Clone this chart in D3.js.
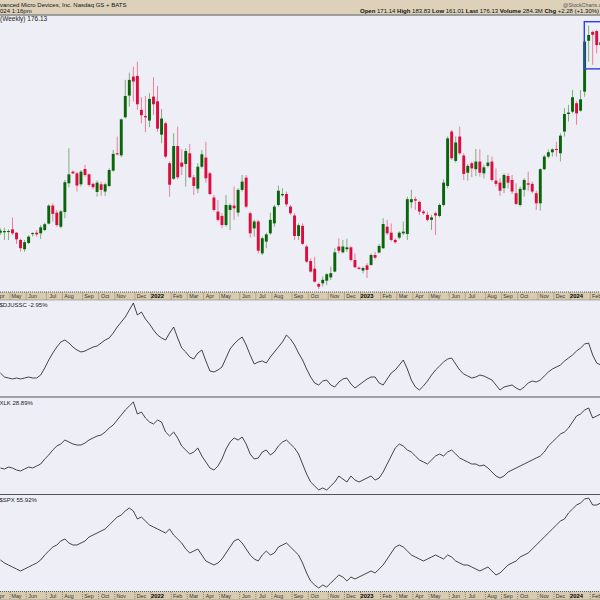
<!DOCTYPE html>
<html><head><meta charset="utf-8">
<script src="https://cdn.jsdelivr.net/npm/d3@7"></script>
<style>body{margin:0;background:#fff}svg{display:block}text{font-family:"Liberation Sans",Arial,sans-serif}</style>
</head><body>
<svg id="c" width="600" height="600"></svg>
<script>
// ---- data (weekly bars, first week starts Monday 2021-04-05) ----
const firstWeek = "2021-04-05";
const mondayHolidays = ["2021-05-31","2021-09-06","2022-01-17","2022-05-30","2022-07-04","2022-09-05","2023-01-02","2023-05-29","2023-09-04","2024-01-01"];
const opens = [81.8,82.0,82.4,83.4,81.8,78.3,73.8,76.8,81.3,81.8,81.5,83.1,86.2,94.9,91.5,84.7,91.8,105.7,111.3,110.5,105.2,112.6,110.0,105.4,101.5,105.2,101.7,104.4,111.8,120.2,119.2,137.6,148.1,157.3,157.6,141.2,138.2,136.0,147.6,145.3,129.2,134.7,115.4,107.9,123.7,115.7,115.0,120.2,108.6,103.1,113.7,118.1,110.5,98.8,92.0,89.9,85.5,92.8,94.9,91.5,102.5,108.4,91.2,83.9,87.2,71.8,77.5,81.5,86.3,95.2,99.9,100.5,94.4,90.1,80.2,85.1,75.1,68.1,64.4,57.0,57.3,58.6,60.2,63.0,75.1,72.3,73.8,74.7,68.6,64.9,63.5,66.0,66.2,71.0,72.2,74.3,84.7,81.8,78.3,79.4,81.5,81.2,96.5,98.0,96.7,92.0,90.4,88.0,91.2,89.9,95.2,104.4,130.7,116.5,128.3,119.1,110.8,115.4,112.5,116.2,110.5,114.1,116.2,107.0,106.0,103.3,109.2,107.3,100.9,95.2,102.5,105.7,105.4,100.9,96.0,112.5,118.6,120.7,122.3,120.2,130.7,139.2,140.3,144.4,140.8,150.0,174.6,178.9,179.3,172.5,171.14];
const highs = [83.9,84.2,83.4,89.1,82.0,78.9,78.3,80.5,82.0,83.1,85.5,86.7,95.5,96.0,92.8,92.8,107.3,122.6,111.8,111.3,112.1,114.6,110.5,106.0,107.0,106.5,106.0,112.9,121.8,128.3,137.0,155.7,159.2,162.1,164.5,147.3,147.9,149.2,156.9,152.8,141.6,135.5,116.2,129.9,133.1,122.1,122.6,124.7,109.7,115.4,121.8,125.8,111.3,100.0,97.6,91.2,100.0,96.0,104.1,103.3,109.7,109.7,92.0,88.0,88.0,79.9,81.8,91.5,95.2,104.6,103.3,101.7,95.2,91.2,86.3,86.3,75.9,69.4,70.2,57.7,60.6,62.2,65.4,74.3,79.1,78.3,78.9,75.4,71.8,65.4,65.4,67.0,71.8,72.6,76.4,88.8,88.0,86.3,79.1,82.5,87.2,99.2,102.5,99.2,97.3,92.8,92.0,90.4,92.0,96.0,107.6,128.3,131.5,128.3,133.1,120.2,115.0,116.2,122.3,122.1,114.6,119.4,118.6,112.9,108.1,110.5,110.5,109.7,105.7,104.1,108.1,111.3,106.5,102.1,112.9,119.4,122.1,122.6,125.8,129.9,142.0,143.6,150.8,145.2,150.8,175.0,182.0,179.5,180.0,180.0,183.83];
const lows = [80.7,78.3,78.3,80.7,76.4,72.6,72.6,76.4,80.0,79.9,78.8,82.5,85.8,87.2,84.7,83.9,88.8,103.8,110.2,101.7,104.1,108.9,104.1,102.8,99.2,99.6,99.6,103.8,111.3,119.2,118.3,137.0,142.8,145.2,141.2,134.7,130.4,132.8,138.7,130.7,125.0,117.8,99.2,107.3,107.6,109.7,104.1,108.1,100.0,100.9,112.9,106.0,100.0,92.0,87.2,83.9,84.7,83.1,88.0,89.6,101.7,93.6,79.4,79.9,71.8,71.0,74.3,80.7,84.7,94.4,99.2,94.4,90.4,78.3,78.3,75.9,67.3,62.5,57.7,54.57,55.7,56.5,58.9,62.7,71.8,71.8,72.6,67.8,64.6,63.8,62.2,59.9,65.7,68.9,71.8,73.8,80.7,77.5,76.4,78.6,80.7,78.3,93.6,92.8,90.4,90.4,87.2,83.1,80.7,89.2,94.4,103.3,117.0,115.7,119.4,107.3,107.0,108.6,109.2,108.9,108.1,113.4,106.5,104.1,99.6,100.9,103.3,100.5,95.1,94.4,99.2,102.1,100.9,92.8,92.5,112.1,117.8,118.6,118.6,116.2,128.3,135.5,139.5,133.9,140.3,147.5,164.5,163.0,168.5,168.0,161.01];
const closes = [82.8,82.6,82.6,81.5,78.6,74.3,77.2,79.9,81.6,81.0,84.4,85.9,94.9,90.9,85.5,92.1,106.2,110.0,110.5,104.6,111.3,109.7,104.9,103.8,106.0,102.5,105.2,112.1,119.9,119.7,136.6,147.9,155.7,154.9,143.9,138.6,137.6,146.5,143.9,132.1,137.0,118.6,105.0,123.7,108.6,113.7,121.3,108.6,104.4,113.7,119.7,108.1,100.5,92.8,88.0,85.5,95.2,95.1,93.6,102.5,106.5,94.4,81.5,87.2,73.1,79.1,81.0,88.0,94.4,102.1,100.5,95.5,91.2,80.2,85.4,76.4,67.8,63.0,58.1,55.7,59.0,61.7,62.2,72.3,73.1,75.1,74.7,68.6,65.1,64.3,64.7,63.8,71.0,69.7,75.4,86.0,81.5,78.3,77.2,81.8,82.3,98.0,98.0,97.3,92.0,91.2,88.0,89.2,90.1,95.2,106.0,127.4,117.8,125.4,120.2,110.2,114.1,112.9,116.2,110.8,113.4,115.7,107.3,105.4,102.1,109.7,106.0,101.7,95.7,103.0,107.3,105.0,101.7,96.0,112.5,118.6,120.7,122.1,121.8,128.7,139.2,139.9,147.3,139.5,146.3,174.2,177.4,177.5,172.5,173.9,176.13];
// lower panels (panel units)
const djusscVals = [22,18,17,16,17,16,17,18,17,17,20,27,35,42,48,53,55,52,48,45,43,44,46,48,49,52,55,57,62,68,73,78,85,92,80,83,76,71,65,60,57,55,62,68,57,47,43,38,36,42,45,34,24,23,25,28,37,46,51,55,58,50,40,31,33,34,32,38,43,48,53,60,56,50,42,35,26,18,12,10,14,15,10,8,13,16,17,11,7,10,13,16,18,18,12,10,16,22,25,30,35,26,15,8,5,9,14,20,25,29,33,36,37,31,25,21,19,17,18,20,19,17,15,10,5,8,9,10,7,5,8,12,14,13,15,19,23,26,28,30,34,37,40,44,47,51,52,40,32,30,31];
const xlkVals = [26,25,27,26,24,23,25,27,26,28,30,35,39,44,48,50,54,52,50,49,49,51,54,56,58,59,62,66,69,74,79,84,88,92,80,82,76,72,70,74,72,62,58,62,56,48,44,40,42,46,38,32,26,24,28,35,45,52,56,54,57,50,40,35,36,42,44,39,42,48,52,54,50,46,40,30,20,12,8,4,6,4,8,12,18,15,12,18,14,12,14,16,18,14,16,22,30,38,46,50,48,44,42,38,34,32,30,34,38,40,38,42,44,40,36,34,32,30,30,28,29,26,22,18,16,18,22,24,26,28,30,32,34,36,38,42,48,52,56,60,62,66,72,78,80,84,86,76,78,80,82];
const spxVals = [31,28,26,24,22,20,22,24,26,28,31,36,40,44,46,50,52,48,46,46,48,50,54,56,58,60,62,66,70,74,76,80,83,80,72,74,70,66,64,62,60,58,62,56,52,48,42,38,40,42,36,30,28,26,28,32,38,44,50,52,48,42,36,32,30,36,40,36,38,44,46,48,44,40,36,28,18,10,6,3,6,4,8,12,16,14,10,14,12,14,16,18,20,18,22,26,32,38,44,46,44,40,36,34,32,30,32,34,36,34,32,36,34,30,28,26,26,24,22,20,22,24,20,16,18,22,26,28,30,34,36,38,42,46,50,54,58,62,66,70,72,78,82,86,88,92,93,86,86,88,90];
const panelLabels = ["$DJUSSC -2.95%","XLK 28.89%","$SPX 55.92%"];
const headerName = "Advanced Micro Devices, Inc.  Nasdaq GS + BATS";
const headerDate = "22-Feb-2024 1:16pm";
const quoteLabels = ["Open","High","Low","Last","Volume","Chg"];
const quoteValues = ["171.14","183.83","161.01","176.13","284.3M","+2.28 (+1.30%)"];
const boxRange = [183.83, 161.01];

// ---- layout ----
const svg = d3.select("#c");
const C = {bg:"#eeeef6", band:"#d8cbb0", head:"#ddd1b9", up:"#0a640a", dn:"#dc0c3c", upW:"#7fae7f", dnW:"#ec7f9c"};
const t0 = d3.utcParse("%Y-%m-%d")(firstWeek);
const weeks = opens.map((_, i) => d3.utcMonday.offset(t0, i));
const N = weeks.length;
const x = d3.scaleUtc().domain([weeks[0], weeks[N-1]]).range([0.4, 0.4 + 4.029*(N-1)]);
const yMain = d3.scaleLinear().domain([50,190]).range([298.45, 8.93]);
const panels = [
  {vals: djusscVals, top:300, bot:396.5, y:d3.scaleLinear().domain([0,95]).range([395,300])},
  {vals: xlkVals, top:397.5, bot:494, y:d3.scaleLinear().domain([0,95]).range([494,399])},
  {vals: spxVals, top:495, bot:591.5, y:d3.scaleLinear().domain([0,95]).range([591,496])}
];

svg.append("rect").attr("width",600).attr("height",600).attr("fill",C.bg);
// header
svg.append("rect").attr("width",600).attr("height",14.5).attr("fill",C.head);
svg.append("line").attr("x1",0).attr("x2",600).attr("y1",15).attr("y2",15).attr("stroke","#555").attr("stroke-width",1);

function prefixWidth(str, size, weight){
  const t = svg.append("text").attr("font-size",size).attr("font-weight",weight||"normal").text(str);
  const w = t.node().getComputedTextLength(); t.remove(); return w;
}
svg.append("text").attr("x",-prefixWidth("Ad",6)).attr("y",6.5).attr("font-size",6).attr("fill","#111").text(headerName);
svg.append("text").attr("x",-prefixWidth("22-Feb-2",6)).attr("y",12.5).attr("font-size",6).attr("fill","#111").text(headerDate);
svg.append("text").attr("x",563).attr("y",6.5).attr("font-size",5.3).attr("fill","#555").text("@StockCharts.com");
const q = svg.append("text").attr("x",360).attr("y",12.5).attr("font-size",6).attr("fill","#111");
quoteLabels.forEach((l,i)=>{
  q.append("tspan").attr("font-weight","bold").text((i?" ":"")+l+" ");
  q.append("tspan").text(quoteValues[i]);
});
svg.append("text").attr("x",0).attr("y",21).attr("font-size",6.5).attr("fill","#222").text("(Weekly) "+closes[N-1]);

// candles
const g = svg.append("g");
const bw = 2.9;
g.selectAll("line.w").data(weeks).join("line")
  .attr("x1",d=>x(d)).attr("x2",d=>x(d))
  .attr("y1",(d,i)=>yMain(highs[i])).attr("y2",(d,i)=>yMain(lows[i]))
  .attr("stroke",(d,i)=>closes[i]>=opens[i]?C.upW:C.dnW).attr("stroke-width",1);
g.selectAll("rect.b").data(weeks).join("rect")
  .attr("x",d=>x(d)-bw/2).attr("width",bw)
  .attr("y",(d,i)=>yMain(Math.max(opens[i],closes[i])))
  .attr("height",(d,i)=>Math.max(1,Math.abs(yMain(opens[i])-yMain(closes[i]))))
  .attr("fill",(d,i)=>closes[i]>=opens[i]?C.up:C.dn);
// highlight box
svg.append("rect").attr("x",x(weeks[145])-0.3).attr("y",yMain(boxRange[0]))
  .attr("width",80).attr("height",yMain(boxRange[1])-yMain(boxRange[0]))
  .attr("fill","none").attr("stroke","#2f3fe6").attr("stroke-width",1.4);

// month ticks
const hol = new Set(mondayHolidays);
const fmtD = d3.utcFormat("%Y-%m-%d");
const eff = weeks.map(w => hol.has(fmtD(w)) ? d3.utcDay.offset(w,1) : w);
const months = d3.utcMonth.range(d3.utcMonth.floor(weeks[0]), d3.utcMonth.offset(weeks[N-1],1));
const ticks = [];
months.forEach(m=>{
  const i = eff.findIndex(e => e >= m);
  if (i>=0 && eff[i].getUTCMonth()===m.getUTCMonth()) ticks.push({i, m});
});
function axisBand(y0, h){
  svg.append("rect").attr("x",0).attr("y",y0).attr("width",600).attr("height",h).attr("fill",C.band);
  svg.append("line").attr("x1",0).attr("x2",600).attr("y1",y0).attr("y2",y0).attr("stroke","#555").attr("stroke-dasharray","1,1");
  svg.append("line").attr("x1",0).attr("x2",600).attr("y1",y0+h).attr("y2",y0+h).attr("stroke","#888").attr("stroke-width",0.6);
  ticks.forEach(t=>{
    const xx = x(weeks[t.i]) - 6.5;
    svg.append("line").attr("x1",xx).attr("x2",xx).attr("y1",y0+0.5).attr("y2",y0+h).attr("stroke","#666").attr("stroke-dasharray","1,1").attr("stroke-width",0.7);
    const jan = t.m.getUTCMonth()===0;
    svg.append("text").attr("x",x(weeks[t.i])).attr("y",y0+h-2).attr("text-anchor","middle")
      .attr("font-size",jan?5.8:5.3).attr("font-weight",jan?"bold":"normal").attr("fill",jan?"#000":"#333")
      .text(jan ? d3.utcFormat("%Y")(t.m) : d3.utcFormat("%b")(t.m));
  });
}
axisBand(292, 8);
axisBand(591.5, 8.5);

// lower panels
panels.forEach((p,k)=>{
  if (k>0) svg.append("line").attr("x1",0).attr("x2",600).attr("y1",p.top-0.5).attr("y2",p.top-0.5).attr("stroke","#555").attr("stroke-width",1);
  svg.append("path").datum(p.vals)
    .attr("d", d3.line().x((d,i)=>x(weeks[i])).y(d=>p.y(d)))
    .attr("fill","none").attr("stroke","#262626").attr("stroke-width",0.85);
  svg.append("text").attr("x",-0.5).attr("y",p.top+7).attr("font-size",6).attr("fill","#222").text(panelLabels[k]);
});
</script>
</body></html>
